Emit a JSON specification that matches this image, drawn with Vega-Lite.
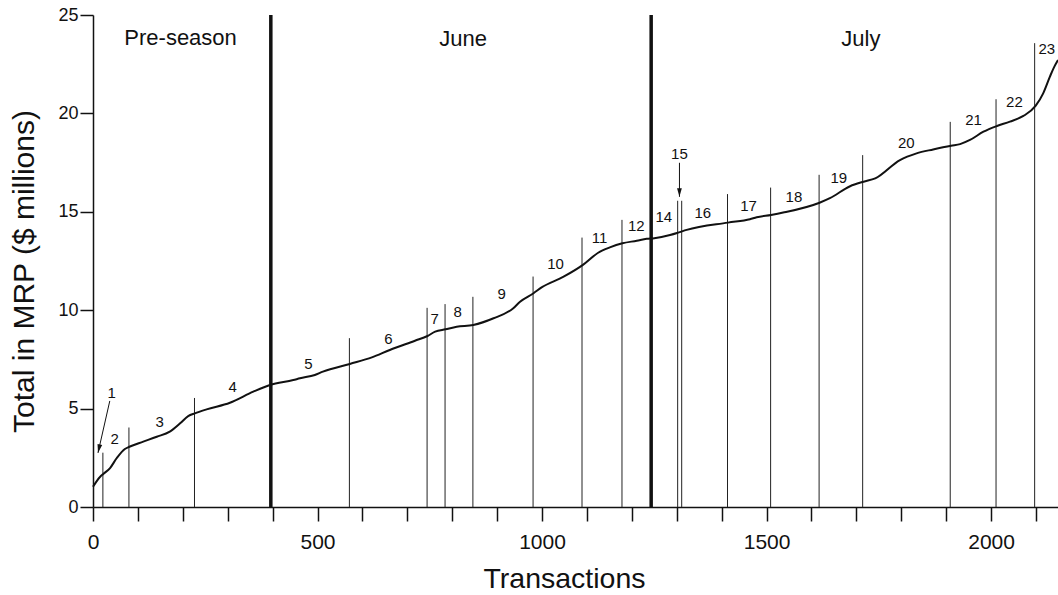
{
  "$schema": "https://vega.github.io/schema/vega-lite/v6.json",
  "autosize": {"type": "none"},
  "padding": {"left": 93, "top": 15, "right": 0, "bottom": 88},
  "width": 965,
  "height": 492,
  "background": "white",
  "config": {
    "view": {"stroke": null},
    "font": "Liberation Sans",
    "axis": {
      "grid": false,
      "domainColor": "#111",
      "domainWidth": 1.5,
      "tickColor": "#111",
      "tickWidth": 1.5,
      "labelColor": "#111",
      "titleColor": "#111",
      "labelFont": "Liberation Sans",
      "titleFont": "Liberation Sans",
      "titleFontWeight": "normal"
    }
  },
  "datasets": {
    "curve": [
      {"t": 0, "mrp": 1.03}, {"t": 16, "mrp": 1.54}, {"t": 23, "mrp": 1.68}, {"t": 38, "mrp": 1.98},
      {"t": 53, "mrp": 2.49}, {"t": 71, "mrp": 2.95}, {"t": 81, "mrp": 3.06}, {"t": 112, "mrp": 3.32},
      {"t": 142, "mrp": 3.57}, {"t": 171, "mrp": 3.83}, {"t": 194, "mrp": 4.25}, {"t": 212, "mrp": 4.62},
      {"t": 227, "mrp": 4.76}, {"t": 253, "mrp": 4.96}, {"t": 305, "mrp": 5.3}, {"t": 357, "mrp": 5.86},
      {"t": 394, "mrp": 6.2}, {"t": 446, "mrp": 6.45}, {"t": 461, "mrp": 6.54}, {"t": 494, "mrp": 6.71},
      {"t": 512, "mrp": 6.88}, {"t": 572, "mrp": 7.27}, {"t": 621, "mrp": 7.6}, {"t": 661, "mrp": 7.98},
      {"t": 717, "mrp": 8.45}, {"t": 745, "mrp": 8.69}, {"t": 762, "mrp": 8.91}, {"t": 785, "mrp": 9.03},
      {"t": 810, "mrp": 9.16}, {"t": 847, "mrp": 9.25}, {"t": 892, "mrp": 9.59}, {"t": 936, "mrp": 10.1},
      {"t": 951, "mrp": 10.43}, {"t": 981, "mrp": 10.86}, {"t": 999, "mrp": 11.16}, {"t": 1048, "mrp": 11.7},
      {"t": 1091, "mrp": 12.3}, {"t": 1125, "mrp": 12.92}, {"t": 1151, "mrp": 13.19}, {"t": 1179, "mrp": 13.4},
      {"t": 1211, "mrp": 13.53}, {"t": 1233, "mrp": 13.63}, {"t": 1250, "mrp": 13.66}, {"t": 1285, "mrp": 13.82},
      {"t": 1303, "mrp": 13.94}, {"t": 1322, "mrp": 14.08}, {"t": 1414, "mrp": 14.45}, {"t": 1463, "mrp": 14.62},
      {"t": 1478, "mrp": 14.72}, {"t": 1510, "mrp": 14.84}, {"t": 1537, "mrp": 14.96}, {"t": 1618, "mrp": 15.46},
      {"t": 1641, "mrp": 15.69}, {"t": 1686, "mrp": 16.3}, {"t": 1716, "mrp": 16.53}, {"t": 1742, "mrp": 16.7},
      {"t": 1797, "mrp": 17.63}, {"t": 1834, "mrp": 17.97}, {"t": 1871, "mrp": 18.17}, {"t": 1911, "mrp": 18.36},
      {"t": 1931, "mrp": 18.44}, {"t": 1953, "mrp": 18.65}, {"t": 1983, "mrp": 19.07}, {"t": 2013, "mrp": 19.36},
      {"t": 2042, "mrp": 19.58}, {"t": 2072, "mrp": 19.87}, {"t": 2099, "mrp": 20.38}, {"t": 2116, "mrp": 21.02},
      {"t": 2131, "mrp": 21.87}, {"t": 2139, "mrp": 22.29}, {"t": 2149, "mrp": 22.71}
    ],
    "dividers": [
      {"t": 22, "top": 2.76}, {"t": 80, "top": 4.04}, {"t": 226, "top": 5.54}, {"t": 571, "top": 8.58},
      {"t": 744, "top": 10.12}, {"t": 784, "top": 10.31}, {"t": 846, "top": 10.68}, {"t": 980, "top": 11.71},
      {"t": 1089, "top": 13.69}, {"t": 1178, "top": 14.59}, {"t": 1302, "top": 15.56}, {"t": 1311, "top": 15.56},
      {"t": 1413, "top": 15.9}, {"t": 1509, "top": 16.23}, {"t": 1617, "top": 16.88}, {"t": 1714, "top": 17.88},
      {"t": 1909, "top": 19.57}, {"t": 2011, "top": 20.72}, {"t": 2097, "top": 23.57}
    ],
    "seasons": [
      {"t": 396, "top": 25}, {"t": 1243, "top": 25}
    ],
    "months": [
      {"t": 195, "y": 23.5, "name": "Pre-season"},
      {"t": 824, "y": 23.45, "name": "June"},
      {"t": 1710, "y": 23.45, "name": "July"}
    ],
    "segments": [
      {"t": 41.6, "y": 5.81, "n": "1"}, {"t": 48.3, "y": 3.47, "n": "2"}, {"t": 148.5, "y": 4.33, "n": "3"},
      {"t": 311, "y": 6.11, "n": "4"}, {"t": 480, "y": 7.28, "n": "5"}, {"t": 658, "y": 8.55, "n": "6"},
      {"t": 761, "y": 9.57, "n": "7"}, {"t": 812, "y": 9.92, "n": "8"}, {"t": 910, "y": 10.83, "n": "9"},
      {"t": 1030, "y": 12.34, "n": "10"}, {"t": 1128, "y": 13.66, "n": "11"}, {"t": 1210, "y": 14.3, "n": "12"},
      {"t": 1271, "y": 14.76, "n": "14"}, {"t": 1306, "y": 17.93, "n": "15"}, {"t": 1358, "y": 14.96, "n": "16"},
      {"t": 1460, "y": 15.27, "n": "17"}, {"t": 1561, "y": 15.77, "n": "18"}, {"t": 1661, "y": 16.74, "n": "19"},
      {"t": 1811, "y": 18.49, "n": "20"}, {"t": 1961, "y": 19.67, "n": "21"}, {"t": 2052, "y": 20.6, "n": "22"},
      {"t": 2124, "y": 23.26, "n": "23"}
    ],
    "arrows": [
      {"n": "1", "t": 37.4, "y": 5.39, "t2": 11.1, "y2": 2.75},
      {"n": "15", "t": 1306, "y": 17.49, "t2": 1306, "y2": 15.76}
    ]
  },
  "encoding": {
    "x": {
      "type": "quantitative",
      "scale": {"domain": [0, 2149], "nice": false, "zero": false}
    },
    "y": {
      "type": "quantitative",
      "scale": {"domain": [0, 25], "nice": false}
    }
  },
  "layer": [
    {
      "data": {"name": "dividers"},
      "mark": {"type": "rule", "color": "#222", "strokeWidth": 1},
      "encoding": {
        "x": {
          "field": "t",
          "type": "quantitative",
          "axis": {
            "title": "Transactions",
            "titleFontSize": 28.5,
            "titleX": 471,
            "titleY": 80,
            "titleBaseline": "alphabetic",
            "values": [0, 100, 200, 300, 400, 500, 600, 700, 800, 900, 1000, 1100, 1200, 1300, 1400, 1500, 1600, 1700, 1800, 1900, 2000, 2100],
            "format": "d",
            "labelExpr": "datum.value % 500 === 0 ? datum.label : ''",
            "labelFontSize": 21,
            "labelPadding": 10,
            "tickSize": 14,
            "labelFlush": false
          }
        },
        "y": {
          "field": "top",
          "type": "quantitative",
          "axis": {
            "title": "Total in MRP ($ millions)",
            "titleFontSize": 30,
            "titleAngle": 270,
            "titleAlign": "center",
            "titleBaseline": "alphabetic",
            "titleX": -60,
            "titleY": 256,
            "values": [0, 5, 10, 15, 20, 25],
            "labelFontSize": 18,
            "labelPadding": 2,
            "tickSize": 13
          }
        },
        "y2": {"datum": 0}
      }
    },
    {
      "data": {"name": "seasons"},
      "mark": {"type": "rule", "color": "#111", "strokeWidth": 3.5},
      "encoding": {
        "x": {"field": "t", "type": "quantitative"},
        "y": {"field": "top", "type": "quantitative"},
        "y2": {"datum": 0}
      }
    },
    {
      "data": {"name": "curve"},
      "mark": {"type": "line", "color": "#111", "strokeWidth": 2, "interpolate": "monotone"},
      "encoding": {
        "x": {"field": "t", "type": "quantitative"},
        "y": {"field": "mrp", "type": "quantitative"}
      }
    },
    {
      "data": {"name": "months"},
      "mark": {"type": "text", "fontSize": 22, "color": "#111", "align": "center", "baseline": "alphabetic"},
      "encoding": {
        "x": {"field": "t", "type": "quantitative"},
        "y": {"field": "y", "type": "quantitative"},
        "text": {"field": "name"}
      }
    },
    {
      "data": {"name": "segments"},
      "mark": {"type": "text", "fontSize": 15, "color": "#111", "align": "center", "baseline": "middle"},
      "encoding": {
        "x": {"field": "t", "type": "quantitative"},
        "y": {"field": "y", "type": "quantitative"},
        "text": {"field": "n"}
      }
    },
    {
      "data": {"name": "arrows"},
      "mark": {"type": "rule", "color": "#111", "strokeWidth": 1},
      "encoding": {
        "x": {"field": "t", "type": "quantitative"},
        "y": {"field": "y", "type": "quantitative"},
        "x2": {"field": "t2"},
        "y2": {"field": "y2"}
      }
    },
    {
      "data": {"name": "arrows"},
      "transform": [{"filter": "datum.n === '1'"}],
      "mark": {"type": "point", "filled": true, "color": "#111", "opacity": 1, "size": 289, "angle": 12.8, "shape": "M0,0 L-0.28,-1 L0.28,-1 Z"},
      "encoding": {
        "x": {"field": "t2", "type": "quantitative"},
        "y": {"field": "y2", "type": "quantitative"}
      }
    },
    {
      "data": {"name": "arrows"},
      "transform": [{"filter": "datum.n === '15'"}],
      "mark": {"type": "point", "filled": true, "color": "#111", "opacity": 1, "size": 289, "angle": 0, "shape": "M0,0 L-0.28,-1 L0.28,-1 Z"},
      "encoding": {
        "x": {"field": "t2", "type": "quantitative"},
        "y": {"field": "y2", "type": "quantitative"}
      }
    }
  ]
}
